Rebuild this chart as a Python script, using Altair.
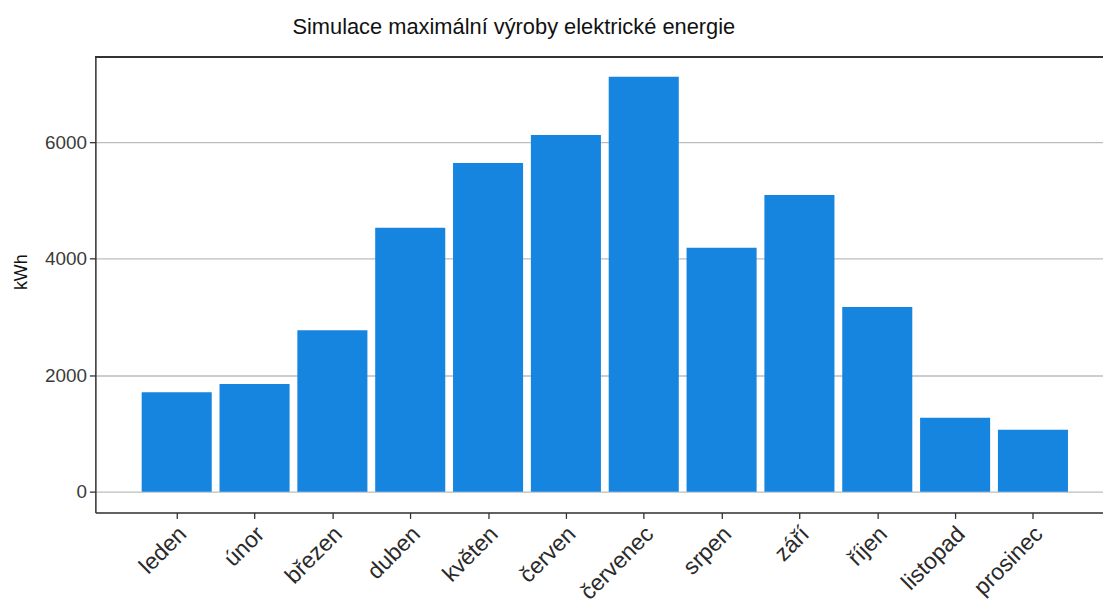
import altair as alt
import pandas as pd

# ---- data ----
months = ["leden", "únor", "březen", "duben", "květen", "červen",
          "červenec", "srpen", "září", "říjen", "listopad", "prosinec"]
month_num = [1, 2, 3, 4, 5, 6, 7, 8, 9, 10, 11, 12]
kwh = [1707, 1849, 2774, 4535, 5645, 6125, 7128, 4188, 5098, 3173, 1269, 1062]

y_ticks = [0, 2000, 4000, 6000]
title_text = "Simulace maximální výroby elektrické energie"
y_title = "kWh"

df = pd.DataFrame({"month": months, "num": month_num, "kwh": kwh})

FONT = "Liberation Sans"
W, H = 1015, 459
label_expr = "[" + ",".join("'" + m + "'" for m in months) + "][datum.value - 1]"

x_scale = alt.Scale(domain=[-0.045, 12.90], nice=False, zero=False)
y_scale = alt.Scale(domain=[-358, 7470], nice=False, zero=False)

bars = alt.Chart(df).transform_calculate(
    x0="datum.num - 0.45", x1="datum.num + 0.45"
).mark_bar(color="#1685E0").encode(
    x=alt.X("x0:Q", scale=x_scale,
            axis=alt.Axis(values=month_num, labelExpr=label_expr, title=None,
                          grid=False, labelAngle=-45, labelAlign="right",
                          labelBaseline="top", labelFontSize=23, labelFont=FONT,
                          labelColor="#2a2a2a", labelPadding=4, labelOffset=-2,
                          tickSize=6, tickColor="#333333", tickWidth=1.3,
                          domainColor="#333333", domainWidth=1.5,
                          labelOverlap=False, labelBound=False, labelFlush=False)),
    x2="x1:Q",
    y=alt.Y("kwh:Q", scale=y_scale,
            axis=alt.Axis(values=y_ticks, format="d", title=y_title, grid=True,
                          gridColor="#bdbdbd", gridWidth=1.4,
                          labelFontSize=19, labelFont=FONT, labelColor="#3a3a3a",
                          labelPadding=3, tickSize=6, tickColor="#333333",
                          tickWidth=1.3, domainColor="#333333", domainWidth=1.5,
                          titleFont=FONT, titleFontSize=18, titleFontWeight="normal",
                          titleColor="#111111", titleX=-74, titleY=H / 2 - 13,
                          titleAngle=-90, titleAlign="center",
                          titleBaseline="middle", labelFlush=False)),
    y2=alt.datum(0),
)

top_border = alt.Chart(df).mark_rule(color="#333333", strokeWidth=1.5).encode(
    x=alt.value(0), x2=alt.value(W), y=alt.value(0)
)

chart = alt.layer(bars, top_border).properties(
    width=W, height=H,
    title=alt.TitleParams(title_text, font=FONT, fontSize=22, fontWeight="normal",
                          color="#111111", anchor="middle", dx=-86, offset=17),
    autosize=alt.AutoSizeParams(type="none"),
    padding={"left": 88, "top": 47, "right": 0, "bottom": 86},
).configure_view(stroke=None).configure(background="white")

chart.save("out.html", embed_options={"renderer": "svg", "actions": False})
